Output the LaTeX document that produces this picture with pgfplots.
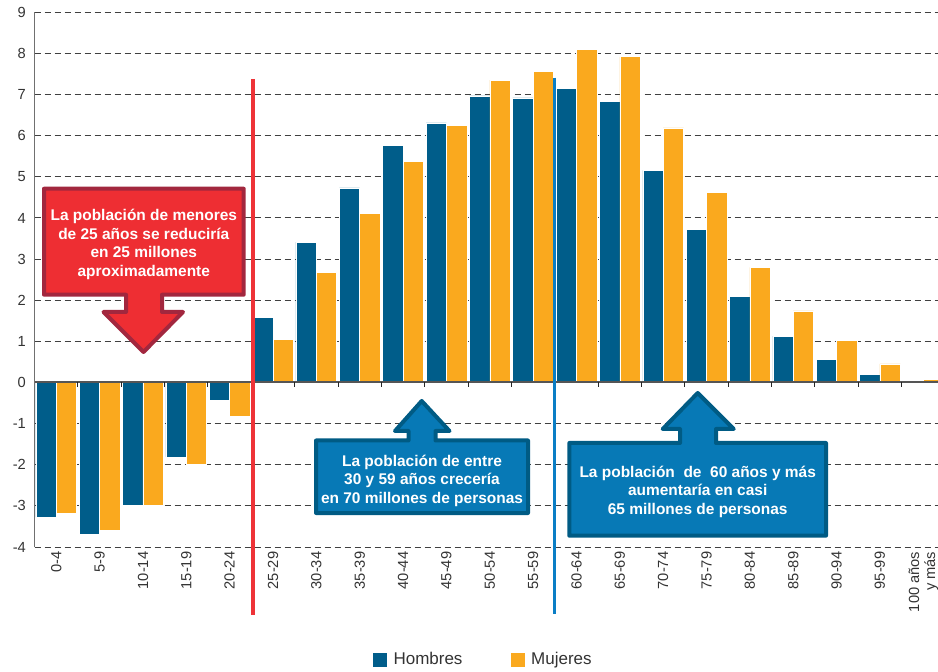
\documentclass[border=0pt]{standalone}
\usepackage{fontspec}
\setmainfont{Liberation Sans}
\usepackage{pgfplots}
\pgfplotsset{compat=1.18}
\definecolor{hblue}{HTML}{005D8A}
\definecolor{myel}{HTML}{FAA91E}
\definecolor{cbfill}{HTML}{0779B6}
\definecolor{cbdraw}{HTML}{005B84}
\definecolor{crfill}{HTML}{EE2E33}
\definecolor{crdraw}{HTML}{A2273E}
\definecolor{redline}{HTML}{EE3338}
\definecolor{blueline}{HTML}{0A7EC5}
\definecolor{tgray}{HTML}{333333}
\definecolor{gridc}{HTML}{404040}
\definecolor{axgray}{HTML}{707070}
\definecolor{zgray}{HTML}{555555}
\begin{document}
\begin{tikzpicture}
\path[use as bounding box] (-25.95pt,-93pt) rectangle (677.55pt,410.25pt);
\clip (-25.95pt,-93pt) rectangle (677.55pt,410.25pt);
\begin{axis}[
  at={(0pt,0pt)}, anchor=south west,
  scale only axis, width=677.55pt, height=401.0pt,
  xmin=-0.5, xmax=20.34, ymin=-4, ymax=9,
  axis x line=bottom, axis y line=left,
  x axis line style={draw=none},
  y axis line style={-, draw=axgray, line width=1.1pt},
  ybar=0pt, bar width=0.47,
  xtick={0,...,20},
  xticklabels={0-4,5-9,10-14,15-19,20-24,25-29,30-34,35-39,40-44,45-49,50-54,55-59,60-64,65-69,70-74,75-79,80-84,85-89,90-94,95-99,{100 años\\y más}},
  xticklabel style={rotate=90, anchor=east, font=\fontsize{11}{12}\selectfont, text=tgray, align=right},
  ytick={-4,...,9},
  yticklabel style={font=\fontsize{11}{12}\selectfont, text=tgray, xshift=-3pt},
  /pgf/number format/assume math mode=true,
  major tick length=0pt, tick style={draw=none},
  ymajorgrids, grid style={draw=gridc, line width=0.75pt, dash pattern=on 4.5pt off 3pt},
  clip=false,
  legend columns=2,
  legend style={at={(0.497,-0.211)}, anchor=center, draw=none, fill=none,
    font=\fontsize{12.75}{14}\selectfont, text=tgray,
    /tikz/every odd column/.append style={column sep=3pt},
    /tikz/every even column/.append style={column sep=34pt}},
  legend image code/.code={\fill[#1, draw=none] (0pt,-5.25pt) rectangle (10.5pt,5.25pt);},
]
\addplot[fill=hblue, draw=white, line width=0.4pt] coordinates {
(0,-3.28)(1,-3.70)(2,-2.99)(3,-1.81)(4,-0.43)(5,1.58)(6,3.41)(7,4.73)(8,5.76)(9,6.31)(10,6.97)(11,6.92)(12,7.15)(13,6.84)(14,5.16)(15,3.72)(16,2.09)(17,1.13)(18,0.56)(19,0.19)(20,0.03)};
\addplot[fill=myel, draw=white, line width=0.4pt] coordinates {
(0,-3.18)(1,-3.60)(2,-2.98)(3,-1.99)(4,-0.82)(5,1.05)(6,2.67)(7,4.12)(8,5.38)(9,6.26)(10,7.35)(11,7.57)(12,8.09)(13,7.92)(14,6.19)(15,4.62)(16,2.80)(17,1.74)(18,1.03)(19,0.45)(20,0.08)};
\legend{Hombres,Mujeres}
\draw[draw=zgray, line width=1.5pt] (axis cs:-0.5,0) -- (axis cs:20.34,0);
\pgfplotsinvokeforeach{0.5,1.5,...,19.5}{\draw[line width=0.75pt, draw=black!85] (axis cs:#1,0) -- ([yshift=-3.5pt]axis cs:#1,0);}
\draw[line width=2.4pt, draw=redline] (axis cs:4.54,7.38) -- (axis cs:4.54,-5.66);
\draw[line width=2.4pt, draw=blueline] (axis cs:11.50,7.41) -- (axis cs:11.50,-5.64);
\end{axis}
\begin{scope}[x=0.75pt, y=-0.75pt, shift={(-25.95pt,410.25pt)}]
\filldraw[fill=crfill, draw=crdraw, line width=3pt, line join=round]
 (44,188.7) -- (243.7,188.7) -- (243.7,294.7) -- (162,294.7) -- (162,312) -- (183,312) -- (143.5,352) -- (103.5,312) -- (126,312) -- (126,294.7) -- (44,294.7) -- cycle;
\node[text=white, font=\bfseries\fontsize{11.6}{13.9}\selectfont, align=center] at (143.8,244.5) {La población de menores\\de 25 años se reduciría\\en 25 millones\\aproximadamente};
\filldraw[fill=cbfill, draw=cbdraw, line width=3pt, line join=round]
 (316,440.5) -- (408.5,440.5) -- (408.5,431) -- (395,431) -- (421.7,401) -- (449.5,431) -- (435.5,431) -- (435.5,440.5) -- (528,440.5) -- (528,513) -- (316,513) -- cycle;
\node[text=white, font=\bfseries\fontsize{11.6}{13.9}\selectfont, align=center] at (422,480.5) {La población de entre\\30 y 59 años crecería\\en 70 millones de personas};
\filldraw[fill=cbfill, draw=cbdraw, line width=3pt, line join=round]
 (569.3,443) -- (680,443) -- (680,429) -- (662.7,429) -- (697.7,393) -- (733.7,429) -- (716,429) -- (716,443) -- (826,443) -- (826,535.7) -- (569.3,535.7) -- cycle;
\node[text=white, font=\bfseries\fontsize{11.6}{13.9}\selectfont, align=center] at (697.7,491.5) {La población\ \ de\ \ 60 años y más\\aumentaría en casi\\65 millones de personas};
\end{scope}
\end{tikzpicture}
\end{document}
